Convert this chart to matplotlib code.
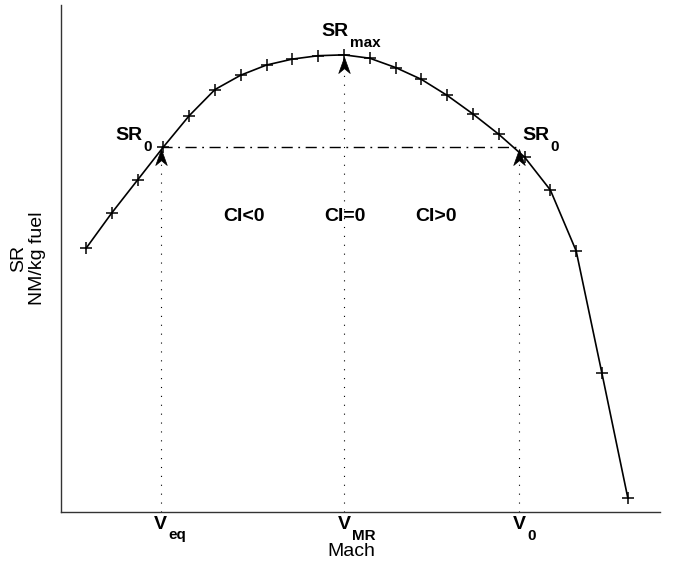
import numpy as np
import matplotlib
matplotlib.use('Agg')
import matplotlib.pyplot as plt
import matplotlib.transforms as mtrans
from matplotlib.path import Path

plt.rcParams['font.family'] = ['Liberation Sans', 'DejaVu Sans']

# datos
mach = [0.60, 0.61, 0.62, 0.63, 0.64, 0.65, 0.66, 0.67, 0.68, 0.69, 0.70,
        0.71, 0.72, 0.73, 0.74, 0.75, 0.76, 0.77, 0.78, 0.79, 0.80, 0.81]
sr = [0.1312, 0.1354, 0.1393, 0.1432, 0.1469, 0.1500, 0.1517, 0.1529,
      0.1536, 0.1540, 0.1541, 0.1537, 0.1526, 0.1512, 0.1493, 0.1471,
      0.1447, 0.1420, 0.1381, 0.1309, 0.1164, 0.1017]

v_eq = 0.6290
v_mr = 0.7000
v_0 = 0.7678
sr_0 = 0.1432
sr_max = 0.1541

v_marks = [v_eq, v_mr, v_0]
sr_marks = [sr_0, sr_max, sr_0]
v_subs = ['eq', 'MR', '0']
ci_x = [0.6612, 0.7004, 0.7355]
ci_labels = ['CI<0', 'CI=0', 'CI>0']

fig = plt.figure(figsize=(6.94, 5.62), dpi=100)
ax = fig.add_axes([61/694, 1-512/562, (660-61)/694, (512-5)/562])
ymin = 0.100
ax.set_xlim(0.5903, 0.8225)
ax.set_ylim(ymin, 0.160)

# curva SR
ax.plot(mach, sr, color='k', lw=1.2, marker='+', ms=9, mew=1.1)

# lineas verticales punteadas
for v, s in zip(v_marks, sr_marks):
    ax.plot([v, v], [ymin, s - 0.0017], color='k', lw=0.8,
            linestyle=(0, (1, 7)))

# linea SR0
ax.plot([v_eq, v_0], [sr_0, sr_0], color='k', lw=1.0,
        linestyle=(0, (8, 4, 1.3, 4)))

# puntas de flecha
head = Path([(0, 0), (-0.36, -1), (0, -0.7), (0.36, -1), (0, 0)],
            [Path.MOVETO, Path.LINETO, Path.LINETO, Path.LINETO, Path.CLOSEPOLY])
ax.plot(v_marks, [s - 0.0003 for s in sr_marks], ls='none', marker=head,
        ms=23, color='k', mew=0.5)

renderer = fig.canvas.get_renderer()
pix = mtrans.IdentityTransform()


# texto con subindice estilo matlab
def sub_text(x, y, main, sub, trans, ha='left'):
    t = ax.text(x, y, main, transform=trans, ha=ha, va='baseline',
                fontsize=14, fontweight='bold')
    bb = t.get_window_extent(renderer)
    base = trans.transform((x, y))[1]
    fig.text(bb.x1 + 1.5, base - 10.5, sub, transform=pix, ha='left',
             va='baseline', fontsize=11, fontweight='bold')


sub_text(0.6911, 0.1563, 'SR', 'max', ax.transData)
sub_text(0.6112, 0.1440, 'SR', '0', ax.transData)
sub_text(0.7690, 0.1440, 'SR', '0', ax.transData)

for x, t in zip(ci_x, ci_labels):
    ax.text(x, 0.1350, t, fontsize=14, fontweight='bold', ha='center', va='center')

vtrans = mtrans.offset_copy(ax.get_xaxis_transform(), fig=fig, x=0, y=-17,
                            units='dots')
for v, s in zip(v_marks, v_subs):
    sub_text(v, 0, 'V', s, vtrans, ha='center')

fig.text(351/694, 1-551.5/562, 'Mach', fontsize=14, ha='center', va='center')
fig.text(28/694, 1-258/562, 'SR\nNM/kg fuel', fontsize=14, ha='center',
         va='center', rotation=90, linespacing=1.1)

ax.set_xticks([])
ax.set_yticks([])
ax.spines['top'].set_visible(False)
ax.spines['right'].set_visible(False)
for s in ['left', 'bottom']:
    ax.spines[s].set_color('0.2')
    ax.spines[s].set_linewidth(1.0)

fig.savefig('out.png', dpi=100)
